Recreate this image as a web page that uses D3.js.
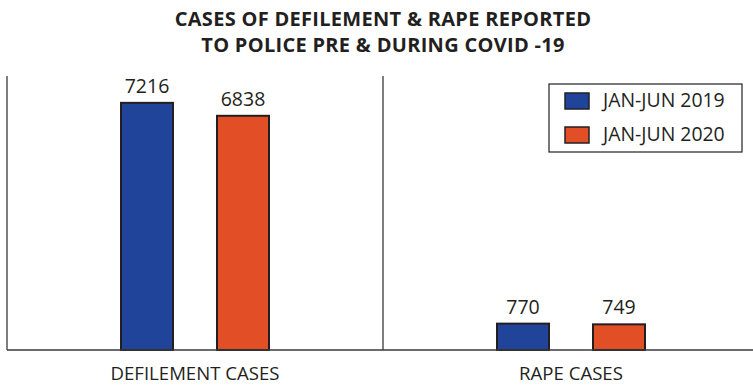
<!DOCTYPE html>
<html>
<head>
<meta charset="utf-8">
<script src="https://cdn.jsdelivr.net/npm/d3@7"></script>
<style>
  html, body { margin: 0; padding: 0; background: #fff; }
  svg { display: block; font-family: "Open Sans", "Noto Sans", sans-serif; }
</style>
</head>
<body>
<svg id="chart" width="753" height="387"></svg>
<script>
// Reported cases, first half of year
const categories = ["DEFILEMENT CASES", "RAPE CASES"];
const seriesNames = ["JAN-JUN 2019", "JAN-JUN 2020"];
const values2019 = [7216, 770];
const values2020 = [6838, 749];
const titleLines = ["CASES OF DEFILEMENT & RAPE REPORTED", "TO POLICE PRE & DURING COVID -19"];

const colors = ["#21449b", "#e24f26"];
const series = [values2019, values2020];

const svg = d3.select("#chart");
const plotLeft = 7, plotRight = 759, plotTop = 76, baseline = 350;

const x = d3.scaleBand().domain(categories).range([plotLeft, plotRight]);
const xs = d3.scaleBand().domain(seriesNames).range([114, 262]).paddingInner(0.4583);
const y = d3.scaleLinear().domain([0, 8000]).range([baseline, plotTop]);

// Title
svg.append("g").selectAll("text").data(titleLines).join("text")
  .attr("x", 383).attr("y", (d, i) => 26 + i * 26)
  .attr("text-anchor", "middle")
  .attr("font-weight", "bold").attr("font-size", 20)
  .attr("letter-spacing", 0.3)
  .attr("fill", "#231f20")
  .text(d => d);

// Frame lines: left edge, category separator, baseline
const lineColor = "#3a3a3a";
svg.append("line").attr("x1", plotLeft).attr("x2", plotLeft).attr("y1", plotTop).attr("y2", baseline)
  .attr("stroke", lineColor).attr("stroke-width", 1.3);
svg.append("line").attr("x1", x(categories[1])).attr("x2", x(categories[1])).attr("y1", plotTop).attr("y2", baseline)
  .attr("stroke", lineColor).attr("stroke-width", 1.3);

// Bars
const data = [];
categories.forEach((c, ci) => series.forEach((vals, si) => data.push({c, s: seriesNames[si], v: vals[ci], color: colors[si]})));

svg.append("g").selectAll("rect").data(data).join("rect")
  .attr("x", d => x(d.c) + xs(d.s))
  .attr("width", xs.bandwidth())
  .attr("y", d => y(d.v))
  .attr("height", d => baseline - y(d.v))
  .attr("fill", d => d.color)
  .attr("stroke", "#231f20").attr("stroke-width", 2);

// Value labels
svg.append("g").selectAll("text").data(data).join("text")
  .attr("x", d => x(d.c) + xs(d.s) + xs.bandwidth() / 2)
  .attr("y", d => y(d.v) - 10)
  .attr("text-anchor", "middle")
  .attr("font-size", 19.5).attr("fill", "#231f20")
  .text(d => d.v);

svg.append("line").attr("x1", plotLeft).attr("x2", 753).attr("y1", baseline).attr("y2", baseline)
  .attr("stroke", lineColor).attr("stroke-width", 1.3);

// Category axis labels
svg.append("g").selectAll("text").data(categories).join("text")
  .attr("x", d => x(d) + x.bandwidth() / 2)
  .attr("y", 380)
  .attr("text-anchor", "middle")
  .attr("font-size", 18.6).attr("fill", "#231f20")
  .text(d => d);

// Legend
const lg = svg.append("g").attr("transform", "translate(549,84)");
lg.append("rect").attr("width", 193).attr("height", 68)
  .attr("fill", "#fff").attr("stroke", "#231f20").attr("stroke-width", 1.2);
const items = lg.selectAll("g").data(seriesNames).join("g")
  .attr("transform", (d, i) => `translate(16,${9 + i * 34})`);
items.append("rect").attr("width", 24).attr("height", 16)
  .attr("fill", (d, i) => colors[i]).attr("stroke", "#231f20").attr("stroke-width", 1.5);
items.append("text").attr("x", 38).attr("y", 14)
  .attr("font-size", 19.4).attr("fill", "#231f20")
  .text(d => d);
</script>
</body>
</html>
